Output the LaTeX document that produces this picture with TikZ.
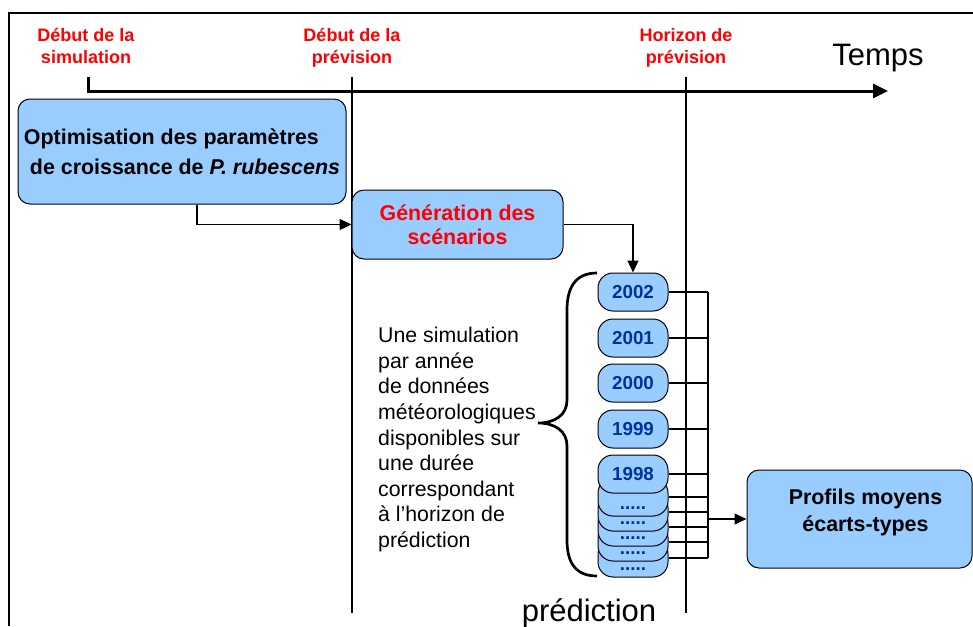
\documentclass[tikz,border=0pt]{standalone}
\usepackage{fontspec}
\setmainfont{Liberation Sans}
\usepackage{tikz}
\usetikzlibrary{arrows.meta, positioning, calc}
\definecolor{boxblue}{RGB}{153,204,255}
\definecolor{yearblue}{RGB}{0,51,153}

\begin{document}
\begin{tikzpicture}[
    x=1pt, y=-1pt,
    phase/.style={draw, line width=1pt, fill=boxblue, rounded corners=12pt, inner sep=0pt, align=center, font=\fontsize{21.4}{24}\selectfont\bfseries},
    year/.style={draw, line width=1pt, fill=boxblue, rounded corners=15pt, minimum width=70pt, minimum height=38pt, inner sep=0pt, text=yearblue, font=\fontsize{18.8}{22}\selectfont\bfseries},
    yeardots/.style={inner sep=0pt, text height=3pt, text depth=0pt, text=yearblue, font=\fontsize{18.8}{22}\selectfont\bfseries},
    milestone/.style={text=red, font=\fontsize{18}{22}\selectfont\bfseries, align=center, inner sep=0pt, anchor=north},
    bigword/.style={inner sep=0pt, font=\fontsize{31}{36}\selectfont},
    flow/.style={line width=1.3pt, -{Triangle[length=12pt, width=11pt]}},
    link/.style={line width=1.3pt},
    cutline/.style={line width=1.3pt}
]
    \useasboundingbox (0,0) rectangle (973,626);

    % Frame
    \draw[line width=1.3pt] (9,626) -- (9,13) -- (973,13);

    % Milestones
    \node[milestone] (simstart) at (86,28) {Début de la\\simulation};
    \node[milestone] (prevstart) at (352,28) {Début de la\\prévision};
    \node[milestone] (horizon) at (686,28) {Horizon de\\prévision};
    \node[bigword] (temps) at (878,58) {Temps};

    % Time axis
    \coordinate (t0) at (88,77);
    \coordinate (t1) at (888,91);
    \draw[line width=3pt, -{Triangle[length=15pt, width=14pt]}] (t0) |- (t1);
    \draw[cutline] (prevstart |- t0) -- ++(0,536);
    \draw[cutline] (horizon |- t0) -- ++(0,536);

    % Phases
    \node[phase, minimum width=328pt, minimum height=105pt, align=left, font=\fontsize{21.4}{30}\selectfont\bfseries] (optim) at (182,151.5)
        {Optimisation des paramètres\\\hspace*{6pt}de croissance de \textit{P. rubescens}};
    \node[phase, minimum width=211pt, minimum height=69pt, text=red] (gen) at (457.5,224.5) {Génération des\\scénarios};
    \node[phase, minimum width=225pt, minimum height=98pt, font=\fontsize{21.4}{27}\selectfont\bfseries, text depth=18pt] (profils) at (859.5,519) {\hspace*{12pt}Profils moyens\\\hspace*{12pt}écarts-types};

    \draw[flow] ([xshift=15pt]optim.south) |- (gen.west);

    % Years
    \foreach \n/\yy in {5/558, 4/542, 3/527, 2/512, 1/497} {
        \node[year] (d\n) at (633,\yy) {};
        \node[yeardots] (dots\n) at (633,\yy+11) {.....};
    }
    \foreach \yr/\yy in {2002/292, 2001/338, 2000/383, 1999/429, 1998/474}
        \node[year] (y\yr) at (633,\yy) {\yr};

    \draw[flow] (gen.east) -| (y2002.north);

    % Description
    \draw[line width=2.7pt] (597,273) .. controls (575,273) and (567,288) .. (567,310) -- (567,400)
        .. controls (567,415) and (555,423) .. (538,423)
        .. controls (555,423) and (567,431) .. (567,446) -- (567,540)
        .. controls (567,562) and (575,576) .. (597,576);
    \node[anchor=north west, align=left, inner sep=0pt, font=\fontsize{21.3}{25.6}\selectfont] (desc) at (378,327)
        {Une simulation\\par année\\de données\\météorologiques\\disponibles sur\\une durée\\correspondant\\à l’horizon de\\prédiction};
    \node[bigword, anchor=base] (pred) at (589,621) {prédiction};

    % Connections
    \coordinate (bus) at (708,0);
    \foreach \b in {y2002,y2001,y2000,y1999,y1998,d1,d2,d3,d4,d5}
        \draw[link] (\b.east) -- (\b.east -| bus);
    \draw[link] (y2002.east -| bus) -- (d5.east -| bus);
    \draw[flow] (bus |- profils.west) -- (profils.west);
\end{tikzpicture}
\end{document}
